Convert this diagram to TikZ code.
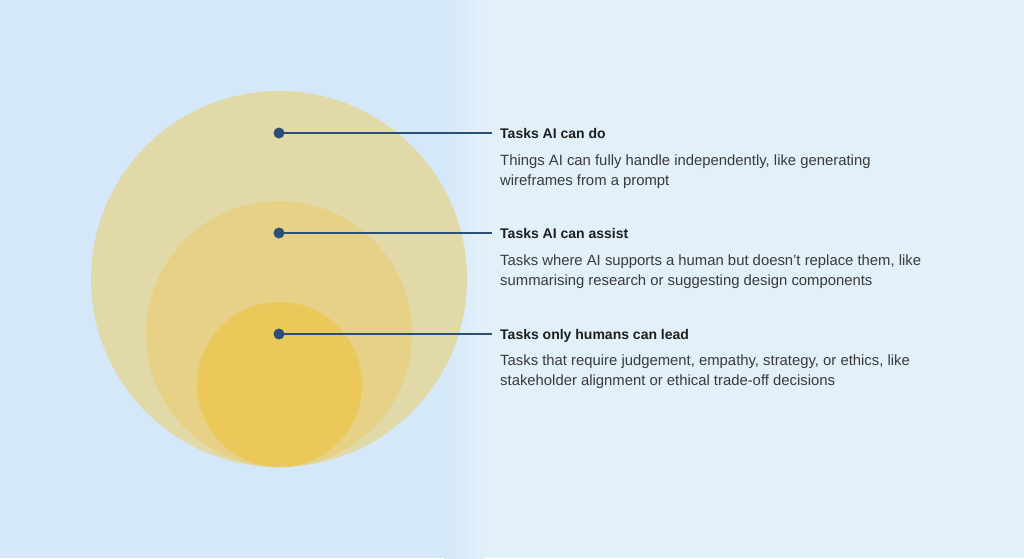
\documentclass[tikz,border=0pt]{standalone}
\usepackage{fontspec}
\setmainfont{Liberation Sans}
\definecolor{bgleft}{HTML}{D4E8F9}
\definecolor{bgright}{HTML}{E2F0F9}
\definecolor{cbig}{HTML}{E1D9A8}
\definecolor{cmid}{HTML}{E6D187}
\definecolor{csmall}{HTML}{EBC85A}
\definecolor{dotc}{HTML}{2C4F78}
\definecolor{titlec}{HTML}{1E1E1E}
\definecolor{descc}{HTML}{3A3A3A}
\tikzset{
  disc/.style={circle, inner sep=0pt, minimum size=#1},
  dotnode/.style={circle, fill=dotc, inner sep=0pt, minimum size=11pt},
  leader/.style={draw=dotc, line width=2pt},
  titlenode/.style={anchor=west, inner xsep=8pt, inner ysep=0pt, text height=10pt, text depth=0pt,
     font=\fontsize{14}{17}\selectfont\bfseries, text=titlec},
  descnode/.style={anchor=base west, inner sep=0pt, align=left,
     font=\fontsize{14.85}{20}\selectfont, text=descc}
}
\begin{document}
\begin{tikzpicture}[x=1pt,y=-1pt]
\useasboundingbox (0,0) rectangle (1024,558);
% background
\fill[bgleft] (0,0) rectangle (445,558);
\shade[left color=bgleft, right color=bgright] (444,0) rectangle (484,558);
\fill[bgright] (483,0) rectangle (1024,558);
% circles
\node[disc=376pt, fill=cbig] (big) at (279,279) {};
\node[disc=266pt, fill=cmid] (mid) at (279,334) {};
\node[disc=165pt, fill=csmall] (small) at (279.5,384.5) {};
% dots
\node[dotnode] (d1) at (279,133) {};
\node[dotnode] (d2) at (279,233) {};
\node[dotnode] (d3) at (279,334) {};
% titles
\node[titlenode] (t1) at (492,133) {Tasks AI can do};
\node[titlenode] (t2) at (492,233) {Tasks AI can assist};
\node[titlenode] (t3) at (492,334) {Tasks only humans can lead};
% descriptions (base anchor = baseline of last line)
\node[descnode] (p1) at (500,185.5) {Things AI can fully handle independently, like generating\\wireframes from a prompt};
\node[descnode] (p2) at (500,285.7) {Tasks where AI supports a human but doesn’t replace them, like\\summarising research or suggesting design components};
\node[descnode] (p3) at (500,385.7) {Tasks that require judgement, empathy, strategy, or ethics, like\\stakeholder alignment or ethical trade-off decisions};
% leaders
\draw[leader] (d1.center) -- (t1.west);
\draw[leader] (d2.center) -- (t2.west);
\draw[leader] (d3.center) -- (t3.west);
\end{tikzpicture}
\end{document}
